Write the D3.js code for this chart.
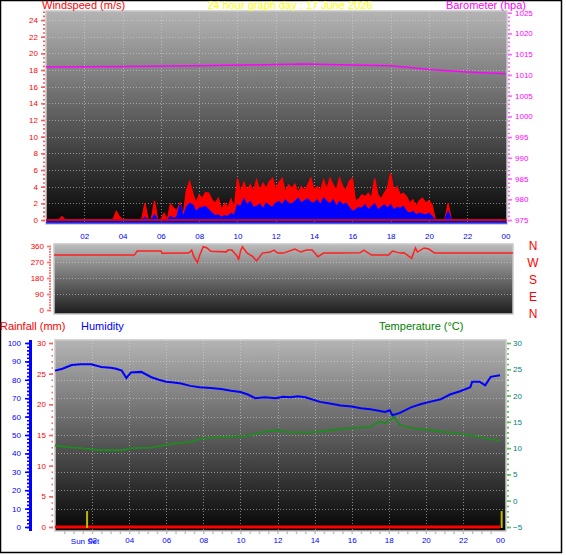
<!DOCTYPE html>
<html>
<head>
<meta charset="utf-8">
<script src="https://cdn.jsdelivr.net/npm/d3@7"></script>
<style>
  body { margin: 0; background: #fff; }
  svg text { font-family: "Liberation Sans", Arial, sans-serif; }
  .tick text { font-family: "Liberation Sans Narrow", "Liberation Sans", Arial, sans-serif; font-size: 8px; }
</style>
</head>
<body>
<div id="chart"></div>
<script>
// ---- data ----

// wind, one value every 10 minutes (m/s), rows are hours 00..23
var gust = [
  0,0,0,0,0,0.4,
  0,0,0,0,0,0,
  0,0,0,0,0,0,
  0,0,0,0,1.0,0.4,
  0,0,0,0,0,0,
  0,2.0,0,0,2.3,0,
  0,0.8,0,1.9,1.4,1.1,
  2.0,0.5,3.5,4.6,3.2,2.0,
  3.0,2.6,3.3,3.2,2.4,2.0,
  2.6,1.2,2.0,1.5,2.5,1.4,
  5.0,3.3,4.5,3.6,4.2,3.4,
  4.8,3.5,4.4,3.8,4.6,5.0,
  3.6,4.5,5.0,3.3,4.2,3.8,
  4.3,3.2,4.0,3.5,4.2,5.0,
  3.6,4.0,3.5,4.8,3.7,5.0,
  4.2,3.6,5.0,4.0,3.5,4.6,
  5.0,2.2,2.5,3.0,2.8,3.2,
  2.6,5.0,3.0,2.5,3.2,3.8,
  5.6,3.5,4.0,3.0,3.2,2.8,
  2.0,2.4,1.6,2.3,2.6,2.0,
  2.3,1.8,0,0,0,0,
  2.0,0,0,0,0,0,
  0,0,0,0,0,0,
  0,0,0,0,0,0
];
var avgWind = [
  0,0,0,0,0,0,
  0,0,0,0,0,0,
  0,0,0,0,0,0,
  0,0,0,0,0,0,
  0,0,0,0,0,0,
  0,0.3,0,0,0.6,0,
  0,0,0,0.4,0.2,0.3,
  1.8,0.3,1.5,2.0,1.8,1.0,
  1.4,1.5,1.6,1.2,0.8,0.5,
  0.6,0.3,0.5,0.4,0.8,0.5,
  1.8,1.6,2.5,1.8,2.2,1.5,
  1.6,1.9,1.3,2.0,1.7,1.5,
  2.0,2.2,1.8,2.4,2.0,1.9,
  2.2,2.6,2.0,2.3,2.5,2.1,
  2.0,2.4,1.8,2.6,2.2,1.9,
  2.4,1.6,2.2,1.8,2.0,1.5,
  1.0,1.2,1.5,1.4,1.8,1.2,
  1.6,1.9,1.2,1.5,1.8,1.4,
  1.8,1.2,1.5,1.4,1.6,1.0,
  0.8,1.0,0.6,0.8,0.7,0.6,
  0.8,0.4,0,0,0,0,
  1.0,0,0,0,0,0,
  0,0,0,0,0,0,
  0,0,0,0,0,0
];

var baroTimes  = [0, 4, 8, 12, 13.5, 16, 18, 19, 20, 22, 24];
var baroValues = [1011.9, 1012.0, 1012.2, 1012.5, 1012.6, 1012.4, 1012.2, 1011.8, 1011.3, 1010.7, 1010.3];

var dirTimes  = [0, 4.2, 4.35, 5.6, 5.65, 7.0, 7.1, 7.2, 7.3, 7.5, 7.6, 7.8, 8.0, 8.2, 9.0, 9.1, 9.3, 9.6, 9.65, 9.75, 9.85, 10.1, 10.4, 10.45, 10.6, 10.9, 11.3, 11.5, 11.7, 12.0, 12.6, 12.9, 13.2, 13.5, 13.8, 14.1, 15.0, 16.0, 16.2, 16.6, 17.0, 17.5, 17.7, 18.1, 18.3, 18.7, 18.9, 19.0, 19.35, 19.6, 19.9, 24];
var dirValues = [309, 309, 332, 332, 319, 320, 326, 337, 303, 266, 303, 356, 349, 330, 327, 337, 337, 300, 281, 330, 356, 320, 300, 292, 277, 320, 326, 337, 320, 320, 343, 326, 337, 337, 300, 320, 320, 322, 337, 309, 310, 310, 332, 320, 322, 291, 349, 326, 349, 343, 320, 320];

var humTimes  = [0, 0.4, 0.9, 1.4, 1.95, 2.5, 3.0, 3.3, 3.6, 3.85, 4.1, 4.65, 5.2, 5.6, 6.0, 6.4, 6.8, 7.3, 7.8, 8.4, 8.95, 9.5, 10.0, 10.4, 10.8, 11.3, 11.9, 12.3, 12.7, 13.1, 13.5, 14.3, 14.9, 15.4, 16.0, 16.5, 17.0, 17.3, 17.8, 18.05, 18.2, 18.6, 19.2, 19.7, 20.2, 20.8, 21.3, 21.85, 22.4, 22.5, 22.9, 23.2, 23.5, 24];
var humValues = [85, 86, 88, 88.5, 88.4, 87, 86.5, 86, 85, 81, 84, 84.3, 81.4, 80, 79, 78.5, 78, 76.7, 76, 75.5, 75, 74, 73.4, 72, 70, 70.5, 70, 70.8, 70.5, 71, 70.5, 68, 67, 66, 65.5, 64.5, 64, 63.5, 62.5, 63.4, 60.7, 62, 65, 66.7, 68, 69.4, 72, 73.8, 76, 79, 79, 77, 81.6, 82.5];

var tempTimes  = [0, 0.7, 1.4, 2.5, 3.6, 4.1, 5.2, 6.3, 7.3, 7.9, 8.95, 10.3, 11.1, 11.9, 12.7, 13.8, 14.9, 15.9, 17.0, 17.5, 17.8, 18.3, 18.6, 19.4, 20.3, 21.2, 22.1, 22.9, 24];
var tempValues = [10.5, 10.2, 10.0, 9.6, 9.6, 10.0, 10.1, 10.8, 11.2, 11.8, 12.1, 12.3, 13.0, 13.4, 13.0, 13.0, 13.4, 13.8, 14.0, 15.1, 14.75, 15.95, 14.4, 13.7, 13.4, 13.0, 12.6, 12.1, 11.4];

var rainTimes  = [0, 24];
var rainValues = [0, 0];

var sunTimes  = [1.73, 24.09];
var sunLabels = ["Sun Set", ""];

var hourTicks  = [2, 4, 6, 8, 10, 12, 14, 16, 18, 20, 22, 24];
var hourLabels = ["02", "04", "06", "08", "10", "12", "14", "16", "18", "20", "22", "00"];
var compass    = ["N", "W", "S", "E", "N"];

// ---- chart ----
var W = 566, H = 555;
var svg = d3.select("#chart").append("svg").attr("width", W).attr("height", H);
var defs = svg.append("defs");

function gradient(id, top, bottom) {
  var g = defs.append("linearGradient").attr("id", id)
      .attr("x1", 0).attr("y1", 0).attr("x2", 0).attr("y2", 1);
  g.append("stop").attr("offset", "0%").attr("stop-color", top);
  g.append("stop").attr("offset", "100%").attr("stop-color", bottom);
}
gradient("gTop", "#b4b4b4", "#050505");
gradient("gMid", "#bcbcbc", "#1c1c1c");
gradient("gBot", "#b4b4b4", "#050505");

svg.append("rect").attr("width", W).attr("height", H).attr("fill", "#fff");
svg.append("rect").attr("x", 0.5).attr("y", 0.5).attr("width", 561).attr("height", 552)
    .attr("fill", "#fff").attr("stroke", "#000").attr("stroke-width", 1.5);

// scales
var xTop = d3.scaleLinear().domain([0, 24]).range([46, 505.5]);
var yWind = d3.scaleLinear().domain([0, 25]).range([220, 11.7]);
var yBaro = d3.scaleLinear().domain([975, 1025]).range([220, 12.7]);

var xMid = d3.scaleLinear().domain([0, 24]).range([54, 513]);
var yDir = d3.scaleLinear().domain([0, 360]).range([310, 246]);

var xBot = d3.scaleLinear().domain([0, 24]).range([55, 500]);
var yRain = d3.scaleLinear().domain([0, 30]).range([527, 343]);
var yHum = d3.scaleLinear().domain([0, 100]).range([527, 343]);
var yTemp = d3.scaleLinear().domain([-5, 30]).range([527, 343]);

function plotBox(x0, y0, x1, y1, fill) {
  svg.append("rect").attr("x", x0).attr("y", y0).attr("width", x1 - x0).attr("height", y1 - y0)
      .attr("fill", "url(#" + fill + ")").attr("stroke", "#c8c8c8").attr("stroke-width", 1.5);
}

function grid(xs, ys, xScale, yScale, x0, x1, y0, y1) {
  var g = svg.append("g").attr("stroke", "#d8d8d8").attr("stroke-opacity", 0.55)
      .attr("stroke-dasharray", "1,2").attr("stroke-width", 1);
  xs.forEach(function(t) {
    g.append("line").attr("x1", Math.round(xScale(t)) + 0.5).attr("x2", Math.round(xScale(t)) + 0.5)
        .attr("y1", y0).attr("y2", y1);
  });
  ys.forEach(function(v) {
    g.append("line").attr("y1", Math.round(yScale(v)) + 0.5).attr("y2", Math.round(yScale(v)) + 0.5)
        .attr("x1", x0).attr("x2", x1);
  });
}

// side axis: majors with labels, minors without
function sideAxis(x, side, scale, majors, minors, majorLen, minorLen, pad, tickColor, labelColor) {
  var mk = side === "left" ? d3.axisLeft : d3.axisRight;
  var gMin = svg.append("g").attr("transform", "translate(" + x + ",0)")
      .call(mk(scale).tickValues(minors).tickSize(minorLen).tickFormat(""));
  var gMaj = svg.append("g").attr("transform", "translate(" + x + ",0)")
      .call(mk(scale).tickValues(majors).tickSize(majorLen).tickPadding(pad).tickFormat(d3.format("d")));
  [gMin, gMaj].forEach(function(g) {
    g.select(".domain").remove();
    g.selectAll("line").attr("stroke", tickColor).attr("stroke-width", 1.6);
    g.selectAll("text").attr("fill", labelColor);
  });
}

function label(x, y, txt, color, anchor, size) {
  svg.append("text").attr("x", x).attr("y", y).attr("fill", color)
      .attr("text-anchor", anchor || "start").attr("font-size", size || 11).text(txt);
}

// ---- top panel: wind + barometer ----
plotBox(46, 11, 507, 224, "gTop");
grid(hourTicks.slice(0, 11), d3.range(2, 25, 2), xTop, yWind, 46, 507, 11, 224);

sideAxis(45, "left", yWind, d3.range(0, 25, 2), d3.range(0, 25.1, 0.5), 4, 2, 3, "#ff5a5a", "#ff0000");
sideAxis(508, "right", yBaro, d3.range(975, 1026, 5), d3.range(975, 1026, 1), 4, 2, 3, "#ff66ff", "#ff00ff");

label(42, 9, "Windspeed (m/s)", "#ff0000");
label(290, 9, "24 hour graph day : 17 June 2026", "#ffff00", "middle");
label(526, 9, "Barometer (hpa)", "#ff00ff", "end");

var baroLine = d3.line().x(function(d, i) { return xTop(baroTimes[i]); }).y(function(d) { return yBaro(d); });
svg.append("path").attr("d", baroLine(baroValues)).attr("fill", "none")
    .attr("stroke", "#ff00ff").attr("stroke-width", 1.5);

var windArea = d3.area().x(function(d, i) { return xTop(i / 6); })
    .y0(yWind(0)).y1(function(d) { return yWind(d); });
svg.append("path").attr("d", windArea(gust)).attr("fill", "#ff0000")
    .attr("stroke", "#ff0000").attr("stroke-width", 1.4).attr("stroke-linejoin", "miter");
svg.append("path").attr("d", windArea(avgWind)).attr("fill", "#0000ff")
    .attr("stroke", "#0000ff").attr("stroke-width", 1.4);
svg.append("line").attr("x1", 46).attr("x2", 507).attr("y1", 220).attr("y2", 220)
    .attr("stroke", "#ff0000").attr("stroke-width", 1.5);
svg.append("line").attr("x1", 46).attr("x2", 507).attr("y1", 222.5).attr("y2", 222.5)
    .attr("stroke", "#2020ff").attr("stroke-width", 2);

var gx = svg.append("g").attr("transform", "translate(0,230)")
    .call(d3.axisBottom(xTop).tickValues(hourTicks).tickSize(0).tickPadding(3)
      .tickFormat(function(d, i) { return hourLabels[i]; }));
gx.select(".domain").remove();
gx.selectAll("text").attr("fill", "#0000ff");

// ---- middle panel: wind direction ----
plotBox(54, 244, 513, 314, "gMid");
grid([], [90, 180, 270], xMid, yDir, 54, 513, 244, 314);
sideAxis(51, "left", yDir, [0, 90, 180, 270, 360], d3.range(0, 361, 15), 4, 2, 3, "#ff7070", "#ff0000");

var dirLine = d3.line().x(function(d, i) { return xMid(dirTimes[i]); }).y(function(d) { return yDir(d); });
svg.append("path").attr("d", dirLine(dirValues)).attr("fill", "none")
    .attr("stroke", "#ff2020").attr("stroke-width", 1.5);

compass.forEach(function(c, i) {
  label(533, 250 + i * 17, c, "#ff0000", "middle", 12);
});

// ---- bottom panel: rain, humidity, temperature ----
label(0, 330, "Rainfall (mm)", "#ff0000");
label(81, 330, "Humidity", "#0000ff");
label(379, 330, "Temperature (\u00b0C)", "#008000");

plotBox(55, 340, 506, 531, "gBot");
grid(hourTicks.slice(0, 11), d3.range(10, 100, 10), xBot, yHum, 55, 506, 340, 531);

svg.append("line").attr("x1", 30.5).attr("x2", 30.5).attr("y1", 340).attr("y2", 531)
    .attr("stroke", "#0000ff").attr("stroke-width", 3);
sideAxis(29, "left", yHum, d3.range(0, 101, 10), d3.range(0, 101, 2), 4, 2, 4, "#0000ff", "#0000ff");
sideAxis(53, "left", yRain, d3.range(0, 31, 5), d3.range(0, 31, 1), 4, 1.5, 3, "#ff6060", "#ff0000");
sideAxis(507, "right", yTemp, d3.range(-5, 31, 5), d3.range(-5, 31, 1), 4, 2, 2, "#60c060", "#008080");

var humLine = d3.line().x(function(d, i) { return xBot(humTimes[i]); }).y(function(d) { return yHum(d); });
svg.append("path").attr("d", humLine(humValues)).attr("fill", "none")
    .attr("stroke", "#0000ff").attr("stroke-width", 2);

var tempLine = d3.line().x(function(d, i) { return xBot(tempTimes[i]); }).y(function(d) { return yTemp(d); });
svg.append("path").attr("d", tempLine(tempValues)).attr("fill", "none")
    .attr("stroke", "#1f8a1f").attr("stroke-width", 1.8);

var rainLine = d3.line().x(function(d, i) { return xBot(rainTimes[i]); }).y(function(d) { return yRain(d); });
svg.append("path").attr("d", rainLine(rainValues)).attr("fill", "none")
    .attr("stroke", "#ff0000").attr("stroke-width", 3);

sunTimes.forEach(function(t) {
  svg.append("line").attr("x1", xBot(t)).attr("x2", xBot(t)).attr("y1", yRain(0) + 1).attr("y2", yRain(2.6))
      .attr("stroke", "#b8b800").attr("stroke-width", 2);
});

var gb = svg.append("g").attr("transform", "translate(0,531)")
    .call(d3.axisBottom(xBot).tickValues(d3.range(0.5, 24, 0.5)).tickSize(3).tickFormat(""));
gb.select(".domain").remove();
gb.selectAll("line").attr("stroke", "#c0c0c0").attr("stroke-width", 1.5);

var gl = svg.append("g").attr("transform", "translate(0,534)")
    .call(d3.axisBottom(xBot).tickValues(hourTicks).tickSize(0).tickPadding(3)
      .tickFormat(function(d, i) { return hourLabels[i]; }));
gl.select(".domain").remove();
gl.selectAll("text").attr("fill", "#0000ff");

sunTimes.forEach(function(t, i) {
  if (sunLabels[i]) {
    svg.append("text").attr("x", xBot(t) - 2).attr("y", 544).attr("fill", "#0000ff")
        .attr("text-anchor", "middle").attr("font-size", 8).text(sunLabels[i]);
  }
});
</script>
</body>
</html>
